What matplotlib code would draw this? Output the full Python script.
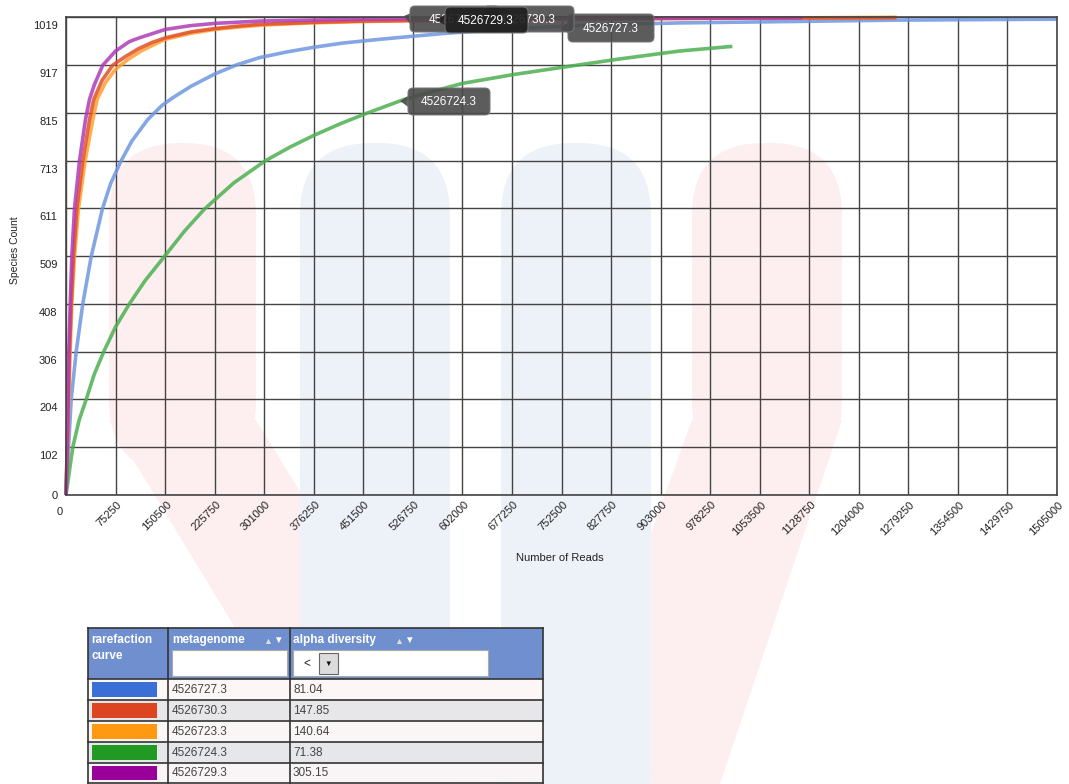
import matplotlib
matplotlib.use("Agg")
import matplotlib.pyplot as plt
from matplotlib.patches import Rectangle, FancyBboxPatch, Polygon
from matplotlib.transforms import ScaledTranslation

plt.rcParams['font.family'] = ['Liberation Sans', 'DejaVu Sans']

# ---- data ----
metagenomes = ["4526727.3", "4526730.3", "4526723.3", "4526724.3", "4526729.3"]
alpha_div = ["81.04", "147.85", "140.64", "71.38", "305.15"]
swatch_colors = ["#3a6fd6", "#dd4422", "#ff9911", "#229922", "#990099"]
line_colors = ["#6f97e0", "#e0502a", "#ffa030", "#4cb050", "#b03cb8"]

blue_x = [0, 3800, 7900, 15500, 25500, 38300, 55400, 68000, 83800, 100000, 124200,
          145000, 161700, 190000, 225750, 260000, 294000, 335000, 376250, 420000,
          476000, 530000, 577900, 660000, 754000, 840000, 932000, 1100000, 1261000, 1505000]
blue_y = [0, 102, 204, 306, 408, 509, 611, 665, 713, 755, 801,
          830, 847, 872, 898, 918, 933, 945, 955, 964,
          972, 979, 985, 993, 1000, 1004, 1007, 1010, 1013, 1015]

red_x = [0, 1800, 3300, 5300, 7900, 11400, 16400, 25500, 35700, 42200, 55000, 71100,
         90000, 110000, 130000, 150500, 190000, 225750, 260000, 294000, 370000,
         450000, 700000, 1000000, 1261500]
red_y = [0, 102, 204, 306, 408, 509, 611, 713, 801, 844, 885, 917,
         935, 952, 965, 975, 988, 995, 1000, 1004, 1008,
         1011, 1015, 1017, 1018]

orange_x = [0, 2300, 4300, 6400, 8800, 12900, 19000, 29100, 40700, 47300, 60000, 75250,
            95000, 115000, 150500, 190000, 225750, 260000, 294000, 370000,
            450000, 700000, 1000000, 1261500]
orange_y = [0, 102, 204, 306, 408, 509, 611, 713, 801, 844, 880, 908,
            930, 948, 972, 985, 993, 998, 1002, 1007,
            1010, 1015, 1017, 1019]

green_x = [0, 10300, 20000, 30700, 43000, 57400, 75000, 96400, 120000, 149600,
           180000, 210300, 255000, 302800, 340000, 376250, 415000, 457900, 514000,
           560000, 602000, 680000, 752500, 840000, 931600, 1012000]
green_y = [0, 102, 160, 204, 258, 306, 358, 408, 457, 509,
           563, 610, 666, 713, 742, 767, 791, 815, 844,
           862, 878, 897, 912, 930, 947, 957]

purple_x = [0, 2000, 3300, 4300, 6400, 8800, 12900, 20500, 29600, 35700, 43000, 55900,
            75250, 96000, 111000, 150500, 188000, 225750, 294000, 450000, 700000, 1118700]
purple_y = [0, 102, 204, 306, 408, 509, 611, 713, 801, 844, 875, 917,
            947, 967, 975, 993, 1001, 1006, 1011, 1015, 1017, 1018]

x_ticks = [75250 * i for i in range(21)]
x_labels = ["" if v == 0 else str(v) for v in x_ticks]
y_ticks = [101.9 * i for i in range(11)]
y_labels = ["0", "102", "204", "306", "408", "509", "611", "713", "815", "917", "1019"]

W, H = 1069, 784
fig = plt.figure(figsize=(W / 100, H / 100), dpi=100)

# background watermark (pixel coords)
bg = fig.add_axes([0, 0, 1, 1], zorder=0)
bg.set_xlim(0, W)
bg.set_ylim(H, 0)
bg.axis("off")
pink, lblue = "#fdeeef", "#edf2f8"
for x0, w in [(109, 147), (692, 150)]:
    bg.add_patch(FancyBboxPatch((x0, 143), w, 330, boxstyle="round,pad=0,rounding_size=72",
                                fc=pink, ec="none"))
bg.add_patch(Polygon([(109, 420), (256, 420), (480, 784), (330, 784)], fc=pink, ec="none"))
bg.add_patch(Polygon([(692, 420), (842, 420), (720, 784), (560, 784)], fc=pink, ec="none"))
for x0 in [300, 501]:
    bg.add_patch(FancyBboxPatch((x0, 143), 150, 700, boxstyle="round,pad=0,rounding_size=72",
                                fc=lblue, ec="none"))

# main chart
ax = fig.add_axes([66 / W, 1 - 495 / H, (1057 - 66) / W, (495 - 17.3) / H], zorder=1)
ax.set_facecolor("none")
ax.set_xlim(0, 1505000)
ax.set_ylim(0, 1019)
ax.set_xticks(x_ticks)
ax.set_xticklabels(x_labels, rotation=45, ha="right", va="top", rotation_mode="anchor", fontsize=8)
ax.set_yticks(y_ticks)
ax.set_yticklabels(y_labels, fontsize=8)
ax.tick_params(length=0, colors="#222222")
ax.tick_params(axis="y", pad=6)
ax.tick_params(axis="x", pad=4)
ax.grid(True, color="#444444", lw=1)
for s in ax.spines.values():
    s.set_color("#444444")
    s.set_linewidth(1.2)
for lab in ax.get_xticklabels():
    lab.set_transform(lab.get_transform() + ScaledTranslation(1 / 100, 1 / 100, fig.dpi_scale_trans))
for i, lab in enumerate(ax.get_yticklabels()):
    if i > 0:
        lab.set_transform(lab.get_transform() + ScaledTranslation(0, -8 / 100, fig.dpi_scale_trans))

series = [(blue_x, blue_y, line_colors[0]), (orange_x, orange_y, line_colors[2]),
          (red_x, red_y, line_colors[1]), (green_x, green_y, line_colors[3]),
          (purple_x, purple_y, line_colors[4])]
for xs, ys, c in series:
    ax.plot(xs, ys, color=c, lw=2.6, alpha=0.85, clip_on=False,
            solid_capstyle="butt", solid_joinstyle="round")

# overlay for table, tooltips and labels (pixel coords)
ov = fig.add_axes([0, 0, 1, 1], zorder=2)
ov.set_xlim(0, W)
ov.set_ylim(H, 0)
ov.axis("off")
ov.set_facecolor("none")

ov.text(60, 512, "0", fontsize=8, ha="center", va="center", color="#222222")
ov.text(15, 250, "Species Count", rotation=90, fontsize=7.5, ha="center", va="center", color="#222222")
ov.text(560, 558, "Number of Reads", fontsize=8, ha="center", va="center", color="#222222")


def tooltip(x0, x1, y0, y1, tip, label, tx, z, fc="#4a4a4a"):
    ov.add_patch(Polygon([(x0 + 1, (y0 + y1) / 2 - 6), (x0 + 1, (y0 + y1) / 2 + 6), tip],
                         fc=fc, ec="none", alpha=0.9, zorder=z))
    ov.add_patch(FancyBboxPatch((x0, y0), x1 - x0, y1 - y0, boxstyle="round,pad=0,rounding_size=5",
                                fc=fc, ec="#777777", lw=0.8, alpha=0.9, zorder=z))
    ov.text(tx, (y0 + y1) / 2 + 0.5, label, color="white", fontsize=8.5, ha="center",
            va="center", zorder=z + 0.5)


tooltip(408, 490, 88, 115, (400, 101), "4526724.3", 449, 5)
tooltip(568, 654, 14, 42, (561, 28), "4526727.3", 611, 6)
tooltip(410, 500, 6, 32, (404, 16), "4526723.3", 457, 7)
tooltip(483, 574, 6, 32, (474, 19), "4526730.3", 528, 8)
tooltip(445, 528, 7, 33, (437, 20), "4526729.3", 486, 9, fc="#1e1e1e")

# table
tx0, tx1 = 88, 543
col = [88, 168, 290, 543]
head_top, head_bot = 628, 679
row_edges = [679, 700, 721, 742, 763, 783]
ov.add_patch(Rectangle((tx0, head_top), tx1 - tx0, head_bot - head_top, fc="#6f8fcf", ec="none"))
row_bg = ["#fcf6f6", "#e7e6e9", "#fbf6f6", "#e6e7ea", "#f9f4f6"]
for i in range(5):
    ov.add_patch(Rectangle((tx0, row_edges[i]), tx1 - tx0, row_edges[i + 1] - row_edges[i],
                           fc=row_bg[i], ec="none"))
    ov.add_patch(Rectangle((92, row_edges[i] + 3), 65, row_edges[i + 1] - row_edges[i] - 6,
                           fc=swatch_colors[i], ec="none"))
    yc = (row_edges[i] + row_edges[i + 1]) / 2
    ov.text(172, yc + 0.5, metagenomes[i], fontsize=8.5, color="#444444", va="center")
    ov.text(293, yc + 0.5, alpha_div[i], fontsize=8.5, color="#444444", va="center")
for y in [head_top] + row_edges:
    ov.plot([tx0, tx1], [y, y], color="#333333", lw=1.2)
for x in col:
    ov.plot([x, x], [head_top, row_edges[-1]], color="#333333", lw=1.2)

ov.text(91, 640, "rarefaction", fontsize=8.5, fontweight="bold", color="white", va="center")
ov.text(91, 656, "curve", fontsize=8.5, fontweight="bold", color="white", va="center")
ov.text(172, 640, "metagenome", fontsize=8.5, fontweight="bold", color="white", va="center")
ov.text(263, 641, "\u25b2", fontsize=6.5, color="#dddddd", va="center")
ov.text(273, 640, "\u25bc", fontsize=7, color="white", va="center")
ov.text(293, 640, "alpha diversity", fontsize=8.5, fontweight="bold", color="white", va="center")
ov.text(394, 641, "\u25b2", fontsize=6.5, color="#dddddd", va="center")
ov.text(404, 640, "\u25bc", fontsize=7, color="white", va="center")
ov.add_patch(Rectangle((172, 650), 115, 26, fc="white", ec="#aaaaaa", lw=0.8))
ov.add_patch(Rectangle((293, 650), 195, 26, fc="white", ec="#aaaaaa", lw=0.8))
ov.text(303, 664, "<", fontsize=8.5, color="#222222", va="center")
ov.add_patch(Rectangle((319, 653), 19, 21, fc="#dcdcdc", ec="#666666", lw=0.8))
ov.text(328.5, 664, "\u25bc", fontsize=5.5, color="#111111", va="center", ha="center")

fig.savefig("out.png", dpi=100)
